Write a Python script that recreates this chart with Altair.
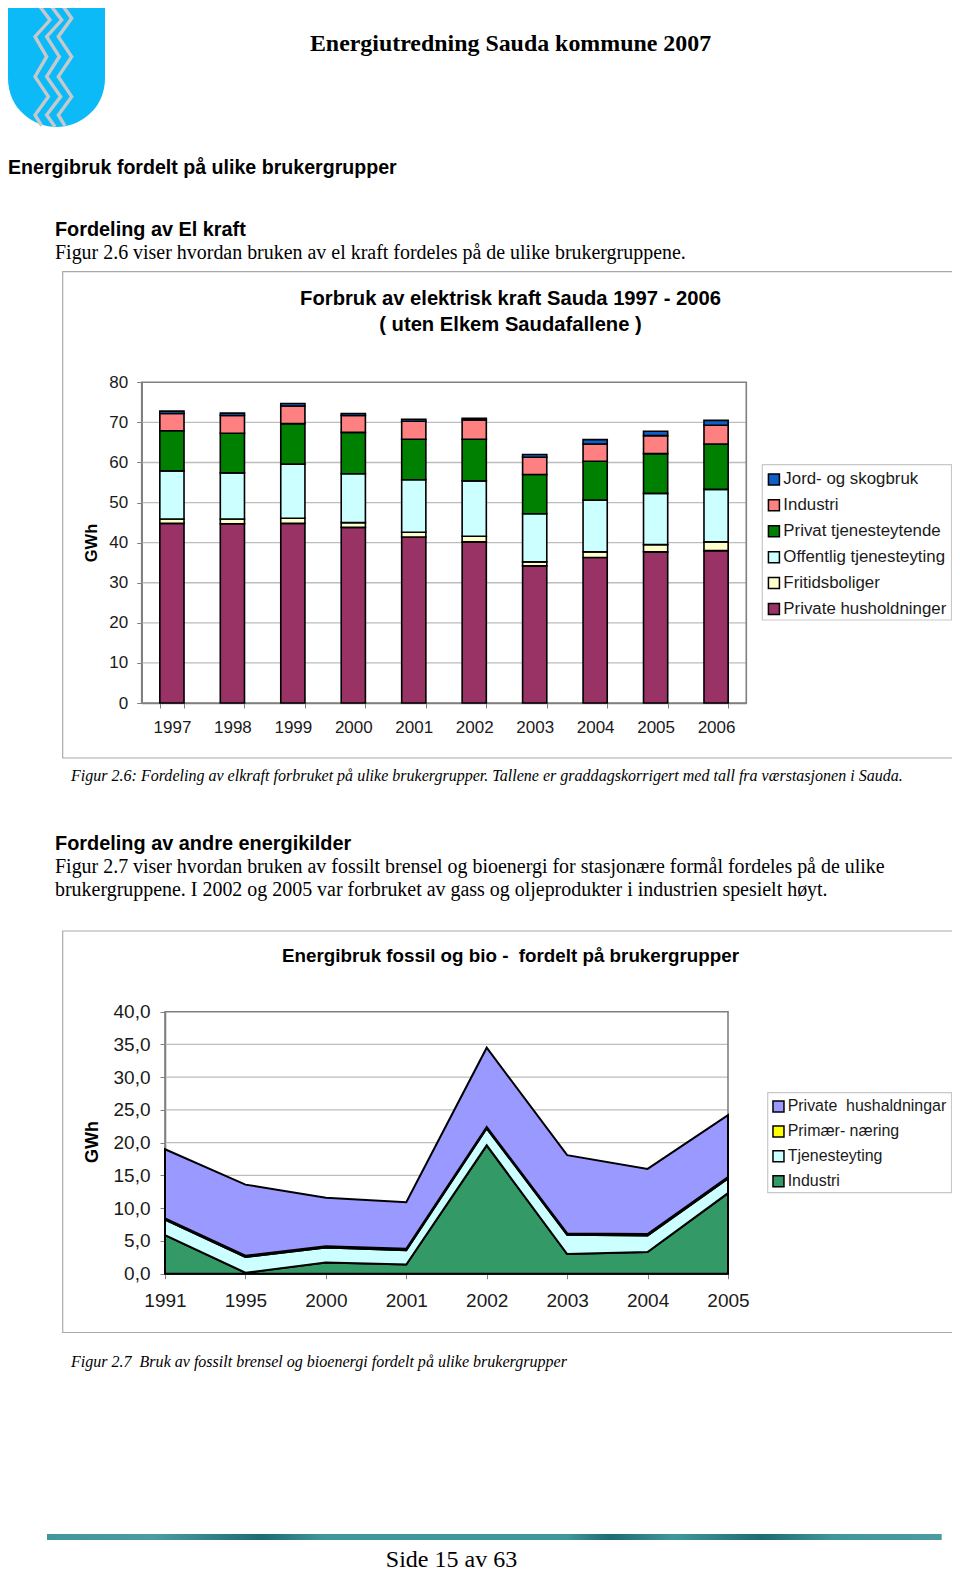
import altair as alt
import pandas as pd

SANS = "Liberation Sans"
SERIF = "Liberation Serif"
W, H = 944, 1564

# ---- Chart 1 data
years1 = ["1997", "1998", "1999", "2000", "2001", "2002", "2003", "2004", "2005", "2006"]
private_hus = [44.8, 44.7, 44.8, 43.8, 41.4, 40.2, 34.2, 36.3, 37.7, 38.0]
fritid = [1.1, 1.2, 1.3, 1.2, 1.2, 1.4, 1.0, 1.4, 1.8, 2.2]
offentlig = [12.0, 11.5, 13.5, 12.2, 13.1, 13.8, 12.0, 12.9, 12.8, 13.1]
privat_tj = [10.0, 9.9, 10.1, 10.3, 10.1, 10.4, 9.8, 9.7, 9.9, 11.3]
industri1 = [4.3, 4.4, 4.4, 4.2, 4.5, 4.8, 4.3, 4.3, 4.5, 4.7]
jord = [0.6, 0.6, 0.6, 0.5, 0.5, 0.4, 0.7, 1.1, 1.1, 1.2]
names1 = ["Jord- og skogbruk", "Industri", "Privat tjenesteytende",
          "Offentlig tjenesteyting", "Fritidsboliger", "Private husholdninger"]
colors1 = ["#0F5FC8", "#FF8080", "#008000", "#CCFFFF", "#FFFFCC", "#993366"]
ticks1 = [0, 10, 20, 30, 40, 50, 60, 70, 80]

# ---- Chart 2 data
years2 = ["1991", "1995", "2000", "2001", "2002", "2003", "2004", "2005"]
industri2 = [5.9, 0.15, 1.7, 1.4, 19.6, 3.0, 3.3, 12.3]
tjeneste = [2.35, 2.4, 2.3, 2.2, 2.6, 2.95, 2.55, 2.25]
primaer = [0.2, 0.2, 0.2, 0.2, 0.2, 0.2, 0.2, 0.2]
private2 = [10.55, 10.85, 7.4, 7.1, 12.1, 11.95, 9.95, 9.45]
names2 = ["Private\u00a0\u00a0hushaldningar", "Primær- næring", "Tjenesteyting", "Industri"]
colors2 = ["#9999FF", "#FFFF00", "#CCFFFF", "#339966"]
ticks2 = [0, 5, 10, 15, 20, 25, 30, 35, 40]


def long_frame(years, names_bottom_up, series):
    rows = []
    for idx, (name, vals) in enumerate(zip(names_bottom_up, series)):
        for yr, v in zip(years, vals):
            rows.append({"year": yr, "series": name, "value": v, "idx": idx})
    return pd.DataFrame(rows)


df1 = long_frame(years1, names1[::-1], [private_hus, fritid, offentlig, privat_tj, industri1, jord])
df2 = long_frame(years2, names2[::-1], [industri2, tjeneste, primaer, private2])


def X(px):
    return px - 8


def Y(px):
    return px - 8


def text(s, x, y, size, font=SANS, weight="normal", style="normal", align="left", color="#000000", angle=0, baseline="alphabetic"):
    return alt.Chart(pd.DataFrame({"t": [s]})).mark_text(
        font=font, fontSize=size, fontWeight=weight, fontStyle=style,
        align=align, baseline=baseline, color=color, angle=angle
    ).encode(text="t:N", x=alt.value(X(x)), y=alt.value(Y(y)))


def box(x1, y1, x2, y2, stroke, sw=1.0, fill=None):
    kw = dict(fill=fill, filled=True) if fill else dict(filled=False)
    return alt.Chart(pd.DataFrame({"a": [0]})).mark_rect(
        stroke=stroke, strokeWidth=sw, **kw
    ).encode(x=alt.value(X(x1)), x2=alt.value(X(x2)), y=alt.value(Y(y1)), y2=alt.value(Y(y2)))


# ---- Plot geometry (page pixels)
P1 = dict(l=141.7, r=746.3, t=382.3, b=703.0)
P2 = dict(l=165.0, r=728.0, t=1011.7, b=1273.7)

yscale1 = alt.Scale(domain=[0, 80], range=[Y(P1["b"]), Y(P1["t"])])
yscale2 = alt.Scale(domain=[0, 40], range=[Y(P2["b"]), Y(P2["t"])])
AX = "#808080"
GRID = "#BDBDBD"
LBL = "#1A1A1A"

grid1 = alt.Chart(pd.DataFrame({"v": ticks1[1:-1]})).mark_rule(color=GRID, strokeWidth=1.3).encode(
    y=alt.Y("v:Q", scale=yscale1, axis=None),
    x=alt.value(X(P1["l"])), x2=alt.value(X(P1["r"])))
frame1 = box(P1["l"], P1["t"], P1["r"], P1["b"], AX, 1.6)

bars = alt.Chart(df1).mark_bar(stroke="#000000", strokeWidth=1.6).encode(
    x=alt.X("year:O", sort=years1, title=None,
            scale=alt.Scale(range=[X(P1["l"]), X(P1["r"])], paddingInner=0.6, paddingOuter=0.3),
            axis=alt.Axis(orient="bottom", offset=Y(P1["b"]) - H, tickBand="extent", labelAngle=0,
                          domainColor=AX, domainWidth=1.6, tickColor=AX, tickSize=5,
                          labelFont=SANS, labelFontSize=17, labelColor=LBL, labelPadding=11, grid=False)),
    y=alt.Y("value:Q", stack="zero", scale=yscale1, title=None,
            axis=alt.Axis(orient="left", offset=-X(P1["l"]), values=ticks1, grid=False,
                          domainColor=AX, domainWidth=1.6, tickColor=AX, tickSize=5,
                          labelFont=SANS, labelFontSize=17, labelColor=LBL, labelPadding=9)),
    color=alt.Color("series:N", scale=alt.Scale(domain=names1, range=colors1),
                    legend=alt.Legend(orient="none", legendX=X(760.5), legendY=Y(466), title=None,
                                      padding=5, symbolType="square", symbolSize=121, symbolStrokeColor="#000000",
                                      symbolStrokeWidth=1.5, labelFont=SANS, labelFontSize=16.85,
                                      labelColor=LBL, rowPadding=6.9, labelOffset=1, labelLimit=300)),
    order=alt.Order("idx:Q"))

grid2 = alt.Chart(pd.DataFrame({"v": ticks2[1:-1]})).mark_rule(color=GRID, strokeWidth=1.3).encode(
    y=alt.Y("v:Q", scale=yscale2, axis=None),
    x=alt.value(X(P2["l"])), x2=alt.value(X(P2["r"])))
frame2 = box(P2["l"], P2["t"], P2["r"], P2["b"], AX, 1.6)

areas = alt.Chart(df2).mark_area(stroke="#000000", strokeWidth=2, opacity=1).encode(
    x=alt.X("year:O", sort=years2, title=None,
            scale=alt.Scale(type="point", range=[X(P2["l"]), X(P2["r"])], padding=0),
            axis=alt.Axis(orient="bottom", offset=Y(P2["b"]) - H, labelAngle=0,
                          domainColor="#000000", domainWidth=1.5, tickColor=AX, tickSize=5,
                          labelFont=SANS, labelFontSize=19, labelColor=LBL, labelPadding=13, grid=False)),
    y=alt.Y("value:Q", stack="zero", scale=yscale2, title=None,
            axis=alt.Axis(orient="left", offset=-X(P2["l"]), values=ticks2, grid=False,
                          labelExpr="replace(format(datum.value, '.1f'), '.', ',')",
                          domainColor=AX, domainWidth=1.6, tickColor=AX, tickSize=5,
                          labelFont=SANS, labelFontSize=19, labelColor=LBL, labelPadding=10)),
    color=alt.Color("series:N", scale=alt.Scale(domain=names2, range=colors2),
                    legend=alt.Legend(orient="none", legendX=X(765.5), legendY=Y(1093.5), title=None,
                                      padding=5, symbolType="square", symbolSize=121, symbolStrokeColor="#000000",
                                      symbolStrokeWidth=1.5, labelFont=SANS, labelFontSize=15.95,
                                      labelColor=LBL, rowPadding=6.9, labelOffset=1.2, labelLimit=300)),
    order=alt.Order("idx:Q"))

# ---- Coat of arms (decorative symbols)
SHIELD = "M-1,-1.227L1,-1.227L1,0.216C1,0.88 0.45,1.227 0,1.227C-0.45,1.227 -1,0.88 -1,0.216Z"
zig = [[(120, 20), (150, 60), (105, 110), (140, 170), (105, 230), (145, 290), (105, 345), (125, 378)],
       [(155, 20), (185, 60), (140, 110), (178, 170), (140, 230), (182, 290), (140, 345), (165, 380)],
       [(190, 20), (215, 55), (175, 110), (215, 170), (175, 230), (215, 290), (175, 345), (195, 378)]]
one = pd.DataFrame({"a": [0]})
shield = alt.Chart(one).mark_point(shape=SHIELD, filled=True, fill="#0CBAF7", size=97 ** 2, opacity=1).encode(
    x=alt.value(X(56.5)), y=alt.value(Y(67.5)))
zig_layers = []
for z in zig:
    d = "M" + "L".join(f"{(a / 3 - 56.5) / 48.5:.3f},{(b / 3 - 67.5) / 48.5:.3f}" for a, b in z)
    zig_layers.append(alt.Chart(one).mark_point(
        shape=d, filled=False, stroke="#C6C9CC", strokeWidth=3.4, size=97 ** 2, opacity=1, strokeJoin="miter"
    ).encode(x=alt.value(X(56.5)), y=alt.value(Y(67.5))))

# ---- Footer rule
footer = alt.Chart(one).mark_rect(fill={
    "gradient": "linear", "x1": 0, "x2": 1, "y1": 0, "y2": 0,
    "stops": [{"offset": 0, "color": "#3F979C"}, {"offset": 0.12, "color": "#4A9CA0"},
              {"offset": 0.24, "color": "#1F6B72"}, {"offset": 0.31, "color": "#3F979C"},
              {"offset": 0.58, "color": "#3F979C"}, {"offset": 0.63, "color": "#1F6B72"},
              {"offset": 0.70, "color": "#3F979C"}, {"offset": 0.80, "color": "#1F6B72"},
              {"offset": 0.88, "color": "#3F979C"}, {"offset": 1, "color": "#4A9CA0"}]}
).encode(x=alt.value(X(47)), x2=alt.value(X(941.7)), y=alt.value(Y(1534)), y2=alt.value(Y(1540)))

texts = [
    text("Energiutredning Sauda kommune 2007", 510.5, 51, 23.9, SERIF, "bold", align="center"),
    text("Energibruk fordelt på ulike brukergrupper", 8, 174, 19.6, SANS, "bold"),
    text("Fordeling av El kraft", 55, 236, 19.85, SANS, "bold"),
    text("Figur 2.6 viser hvordan bruken av el kraft fordeles på de ulike brukergruppene.", 55, 259, 19.95, SERIF),
    text("Forbruk av elektrisk kraft Sauda 1997 - 2006", 510.5, 305, 20.2, SANS, "bold", align="center"),
    text("( uten Elkem Saudafallene )", 510.5, 331, 20.2, SANS, "bold", align="center"),
    text("GWh", 92, 543, 16.5, SANS, "bold", align="center", angle=270, baseline="middle"),
    text("Figur 2.6: Fordeling av elkraft forbruket på ulike brukergrupper. Tallene er graddagskorrigert med tall fra værstasjonen i Sauda.",
         71, 781, 16.05, SERIF, style="italic"),
    text("Fordeling av andre energikilder", 55, 850, 19.9, SANS, "bold"),
    text("Figur 2.7 viser hvordan bruken av fossilt brensel og bioenergi for stasjonære formål fordeles på de ulike", 55, 873, 19.95, SERIF),
    text("brukergruppene. I 2002 og 2005 var forbruket av gass og oljeprodukter i industrien spesielt høyt.", 55, 896, 19.95, SERIF),
    text("Energibruk fossil og bio -\u00a0\u00a0fordelt på brukergrupper", 510.5, 962, 18.8, SANS, "bold", align="center"),
    text("GWh", 93, 1142, 18, SANS, "bold", align="center", angle=270, baseline="middle"),
    text("Figur 2.7\u00a0\u00a0Bruk av fossilt brensel og bioenergi fordelt på ulike brukergrupper", 71, 1367, 16.05, SERIF, style="italic"),
    text("Side 15 av 63", 451.5, 1566.5, 24, SERIF, align="center"),
]

layers = [shield] + zig_layers + [
    box(62.7, 271.7, 958.3, 758, "#AAAAAA", 1.2),
    box(62.7, 931, 958.3, 1332.5, "#AAAAAA", 1.2),
    box(762.3, 464.7, 951.5, 620, "#C8C8C8", 1.2, "#FFFFFF"),
    box(767.7, 1092.7, 951.5, 1192.7, "#C8C8C8", 1.2, "#FFFFFF"),
    grid1, frame1, bars, grid2, frame2, areas, footer,
] + texts

chart = alt.layer(*layers).resolve_scale(
    x="independent", y="independent", color="independent"
).resolve_axis(x="independent", y="independent").properties(
    width=W, height=H, padding=0, autosize=alt.AutoSizeParams(type="none"),
    background="#FFFFFF"
).configure_view(stroke=None)

chart.save("out.html", embed_options={"renderer": "svg", "actions": False})
